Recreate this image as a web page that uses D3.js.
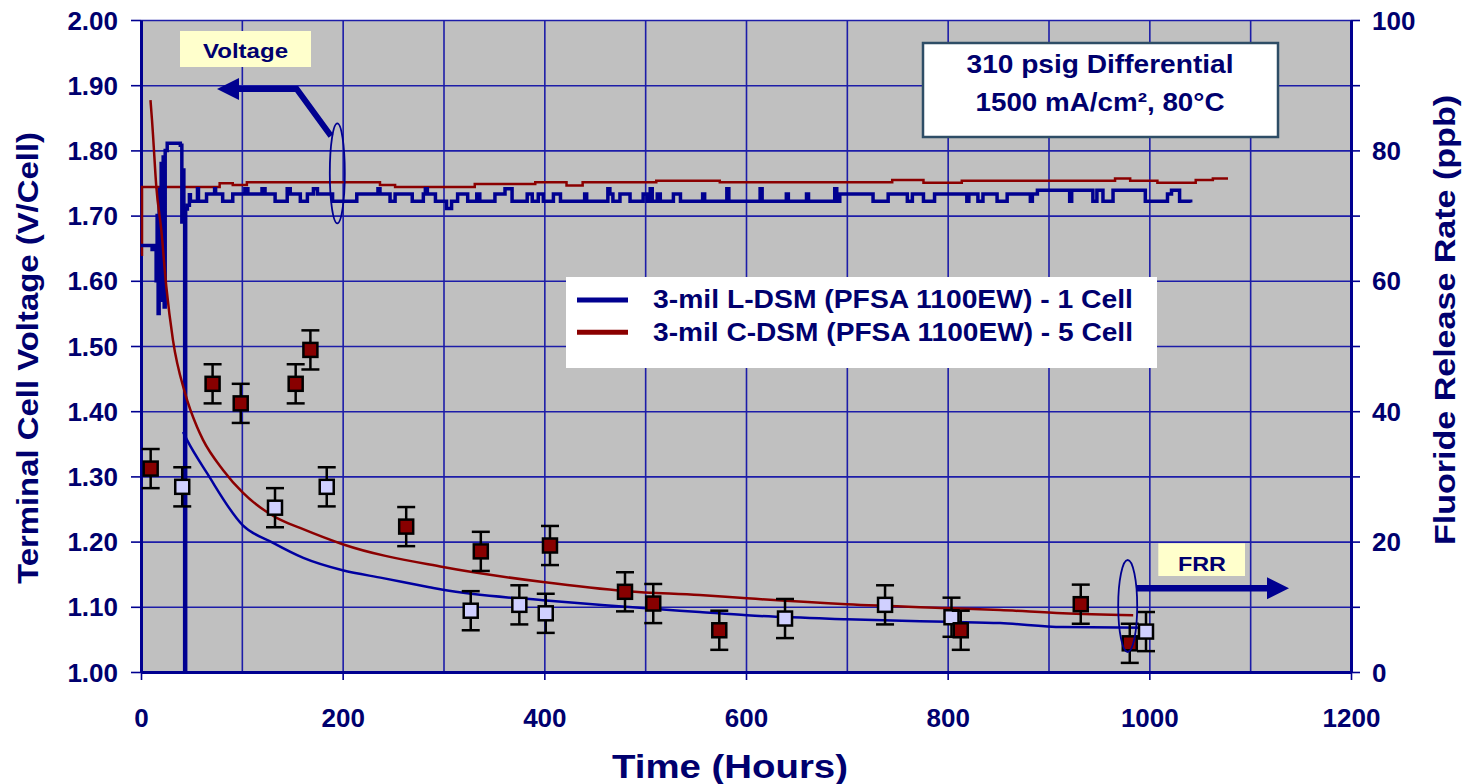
<!DOCTYPE html>
<html>
<head>
<meta charset="utf-8">
<script src="https://cdn.jsdelivr.net/npm/d3@7"></script>
<style>
  body { margin: 0; background: #fff; }
  text { font-family: "Liberation Sans", Arial, sans-serif; font-weight: bold; fill: #00006e; }
</style>
</head>
<body>
<div id="chart"></div>
<script>
// ticks
var timeTicks = [0, 200, 400, 600, 800, 1000, 1200];
var gridHours = [0, 100, 200, 300, 400, 500, 600, 700, 800, 900, 1000, 1100, 1200];
var voltTicks = [1.00, 1.10, 1.20, 1.30, 1.40, 1.50, 1.60, 1.70, 1.80, 1.90, 2.00];
var frrTicks = [0, 10, 20, 30, 40, 50, 60, 70, 80, 90, 100];

// voltage, [hours, V/cell]
var voltLDSM = [
  [0, 1.654], [11, 1.648], [14, 1.654], [15, 1.60], [16, 1.70], [17, 1.55], [18, 1.74], [19, 1.58],
  [20, 1.78], [21, 1.57], [22, 1.79], [23, 1.56], [24, 1.80], [26, 1.811], [39, 1.808], [40.5, 1.69],
  [41.5, 1.77], [42.5, 1.70], [43.3, 1.00], [44.3, 1.71], [46, 1.716], [48, 1.732],
  [49, 1.722], [56, 1.741], [57, 1.722], [65, 1.733], [73, 1.741], [74, 1.733], [81, 1.722], [91, 1.733],
  [103, 1.741], [106, 1.733], [120, 1.741], [123, 1.733], [133, 1.722], [145, 1.741], [148, 1.733],
  [158, 1.722], [165, 1.733], [171, 1.741], [175, 1.733], [190, 1.722], [214, 1.733], [235, 1.741],
  [237, 1.733], [247, 1.722], [252, 1.733], [269, 1.722], [280, 1.733], [282, 1.741], [284, 1.733],
  [292, 1.722], [303, 1.711], [308, 1.722], [314, 1.733], [324, 1.722], [333, 1.733], [336, 1.722],
  [351, 1.733], [361, 1.741], [368, 1.722], [383, 1.733], [388, 1.722], [394, 1.733], [399, 1.722],
  [409, 1.733], [416, 1.722], [440, 1.733], [442, 1.722], [463, 1.741], [465, 1.733], [468, 1.722],
  [475, 1.733], [485, 1.722], [498, 1.733], [502, 1.722], [505, 1.741], [507, 1.722], [512, 1.733],
  [515, 1.722], [528, 1.733], [535, 1.722], [557, 1.733], [559, 1.722], [581, 1.741], [583, 1.722],
  [614, 1.741], [616, 1.722], [640, 1.733], [642, 1.722], [660, 1.733], [662, 1.722], [688, 1.741],
  [690, 1.722], [693, 1.733], [726, 1.722], [741, 1.733], [760, 1.722], [765, 1.733], [776, 1.722],
  [787, 1.733], [819, 1.722], [821, 1.733], [830, 1.722], [835, 1.733], [849, 1.722], [859, 1.733],
  [882, 1.722], [884, 1.733], [889, 1.739], [921, 1.722], [923, 1.739], [944, 1.722], [948, 1.739],
  [954, 1.722], [964, 1.739], [996, 1.722], [1018, 1.733], [1022, 1.739], [1030, 1.722], [1041, 1.72]
];
var voltCDSM = [
  [0, 1.64], [1, 1.744], [78, 1.7495], [91, 1.747], [105, 1.751], [237, 1.747], [252, 1.744],
  [331, 1.7485], [391, 1.751], [422, 1.746], [438, 1.751], [511, 1.7535], [574, 1.751], [745, 1.7545],
  [776, 1.7505], [814, 1.7535], [966, 1.757], [981, 1.7535], [1008, 1.7505], [1046, 1.7545],
  [1063, 1.757], [1078, 1.757]
];

// fluoride release rate trend, [hours, ppb]
var frrLDSM = [
  [41.7, 36.8], [45.6, 35.6], [65.5, 30.5], [101, 22.5], [131, 19.8], [161, 17.5], [200, 15.6],
  [240, 14.4], [286, 13.0], [299.5, 12.6], [398.7, 11.0], [448, 10.4], [498, 9.8], [554, 9.2],
  [601, 8.7], [700, 8.1], [799, 7.7], [852, 7.5], [914, 6.9], [997.7, 6.8]
];
var frrCDSM = [
  [9.4, 87.7], [10.9, 84.7], [11.9, 82.4], [15.2, 74.4], [20.1, 67.8], [25.1, 59.1], [31.7, 50.9],
  [43.6, 42.8], [55.5, 37.6], [61.5, 35.6], [81.3, 31.0], [101, 27.5], [135, 23.6], [157.7, 22.1],
  [200, 19.6], [299.5, 16.1], [398.7, 13.8], [482, 12.4], [554, 11.8], [601, 11.3], [700, 10.4],
  [799, 9.8], [852, 9.5], [914, 9.0], [984, 8.7]
];

// measured FRR samples, [hours, ppb]
var sampLDSM = [
  [40.9, 28.4], [132.9, 25.2], [184.2, 28.4], [327, 9.4], [375.2, 10.3], [401.4, 9.0],
  [638.7, 8.2], [737.9, 10.3], [803.8, 8.4], [996.7, 6.2]
];
var sampCDSM = [
  [9.6, 31.2], [71, 44.2], [98.9, 41.2], [153.4, 44.2], [168, 49.4], [263, 22.3], [337, 18.5],
  [405.6, 19.4], [480, 12.3], [508, 10.5], [573.5, 6.4], [813, 6.4], [932, 10.4], [980.6, 4.4]
];
var errPpb = 3;

var legendNames = ["3-mil L-DSM (PFSA 1100EW) - 1 Cell", "3-mil C-DSM (PFSA 1100EW) - 5 Cell"];

var navy = "#000090";
var darkRed = "#8b0000";
var gridColor = "#1c1ca8";

var svgWidth = 1469;
var svgHeight = 784;
var margin = { top: 20, right: 118, bottom: 112, left: 141 };
var chartWidth = svgWidth - margin.left - margin.right;
var chartHeight = svgHeight - margin.top - margin.bottom;

var svg = d3.select("#chart").append("svg")
  .attr("width", svgWidth)
  .attr("height", svgHeight);

var chartGroup = svg.append("g")
  .attr("transform", `translate(${margin.left}, ${margin.top})`);

var xScale = d3.scaleLinear().domain([0, 1200]).range([0, chartWidth]);
var yVolt = d3.scaleLinear().domain([1, 2]).range([chartHeight, 0]);
var yFrr = d3.scaleLinear().domain([0, 100]).range([chartHeight, 0]);

// plot background
chartGroup.append("rect")
  .attr("width", chartWidth)
  .attr("height", chartHeight)
  .attr("fill", "#c0c0c0");

// grid
var vGrid = chartGroup.append("g")
  .call(d3.axisBottom(xScale).tickValues(gridHours).tickSize(chartHeight).tickFormat(""));
var hGrid = chartGroup.append("g")
  .call(d3.axisLeft(yVolt).tickValues(voltTicks).tickSize(-chartWidth).tickFormat(""));
[vGrid, hGrid].forEach(function (g) {
  g.select(".domain").remove();
  g.selectAll("line").attr("stroke", gridColor).attr("stroke-width", 1.6);
});

// axes
var xAxis = chartGroup.append("g")
  .attr("transform", `translate(0,${chartHeight})`)
  .call(d3.axisBottom(xScale).tickValues(timeTicks).tickSize(8).tickSizeOuter(0).tickFormat(d3.format("d")));
xAxis.selectAll("text").attr("y", 55).attr("dy", 0);

var yAxisL = chartGroup.append("g")
  .call(d3.axisLeft(yVolt).tickValues(voltTicks).tickSize(10).tickSizeOuter(0).tickFormat(d3.format(".2f")));
yAxisL.selectAll("text").attr("x", -23).attr("dy", "0.35em");

var yAxisR = chartGroup.append("g")
  .attr("transform", `translate(${chartWidth},0)`)
  .call(d3.axisRight(yFrr).tickValues(frrTicks).tickSize(9).tickSizeOuter(0)
    .tickFormat(d => d % 20 === 0 ? d : ""));
yAxisR.selectAll("text").attr("x", 21).attr("dy", "0.35em");

[xAxis, yAxisL, yAxisR].forEach(function (g) {
  g.select(".domain").attr("stroke", navy).attr("stroke-width", 3);
  g.selectAll(".tick line").attr("stroke", navy).attr("stroke-width", 1.6);
  g.selectAll("text")
    .attr("fill", "#00006e")
    .style("font-size", "26px")
    .style("font-family", '"Liberation Sans", Arial, sans-serif')
    .style("font-weight", "bold");
});

// axis titles
svg.append("text")
  .attr("transform", "translate(38, 358) rotate(-90)")
  .attr("text-anchor", "middle")
  .attr("textLength", 452)
  .attr("lengthAdjust", "spacingAndGlyphs")
  .style("font-size", "30px")
  .text("Terminal Cell Voltage (V/Cell)");

svg.append("text")
  .attr("transform", "translate(1455, 320) rotate(-90)")
  .attr("text-anchor", "middle")
  .attr("textLength", 450)
  .attr("lengthAdjust", "spacingAndGlyphs")
  .style("font-size", "29px")
  .text("Fluoride Release Rate (ppb)");

svg.append("text")
  .attr("x", 730)
  .attr("y", 778)
  .attr("text-anchor", "middle")
  .attr("textLength", 236)
  .attr("lengthAdjust", "spacingAndGlyphs")
  .style("font-size", "33px")
  .text("Time (Hours)");

// voltage lines
var voltLine = d3.line()
  .x(d => xScale(d[0]))
  .y(d => yVolt(d[1]))
  .curve(d3.curveStepAfter);

chartGroup.append("path")
  .datum(voltCDSM)
  .attr("d", voltLine)
  .attr("fill", "none")
  .attr("stroke", darkRed)
  .attr("stroke-width", 2.5);

chartGroup.append("path")
  .datum(voltLDSM)
  .attr("d", voltLine)
  .attr("fill", "none")
  .attr("stroke", navy)
  .attr("stroke-width", 3.5);

// FRR trend lines
var frrLine = d3.line()
  .x(d => xScale(d[0]))
  .y(d => yFrr(d[1]))
  .curve(d3.curveMonotoneX);

chartGroup.append("path")
  .datum(frrCDSM)
  .attr("d", frrLine)
  .attr("fill", "none")
  .attr("stroke", darkRed)
  .attr("stroke-width", 2.5);

chartGroup.append("path")
  .datum(frrLDSM)
  .attr("d", frrLine)
  .attr("fill", "none")
  .attr("stroke", "#0000a0")
  .attr("stroke-width", 2.5);

// samples with error bars
function drawSamples(data, fill) {
  var g = chartGroup.append("g");
  var items = g.selectAll("g").data(data).enter().append("g");
  items.append("line")
    .attr("x1", d => xScale(d[0])).attr("x2", d => xScale(d[0]))
    .attr("y1", d => yFrr(d[1] - errPpb)).attr("y2", d => yFrr(d[1] + errPpb))
    .attr("stroke", "#000").attr("stroke-width", 2.5);
  [-errPpb, errPpb].forEach(function (e) {
    items.append("line")
      .attr("x1", d => xScale(d[0]) - 9).attr("x2", d => xScale(d[0]) + 9)
      .attr("y1", d => yFrr(d[1] + e)).attr("y2", d => yFrr(d[1] + e))
      .attr("stroke", "#000").attr("stroke-width", 2.5);
  });
  items.append("rect")
    .attr("x", d => xScale(d[0]) - 7).attr("y", d => yFrr(d[1]) - 7)
    .attr("width", 14).attr("height", 14)
    .attr("fill", fill)
    .attr("stroke", "#000").attr("stroke-width", 2.5);
}
drawSamples(sampLDSM, "#d0d0ff");
drawSamples(sampCDSM, "#880000");

// legend
var legend = chartGroup.append("g").attr("transform", "translate(425, 257)");
legend.append("rect").attr("width", 591).attr("height", 91).attr("fill", "#fff");
[navy, darkRed].forEach(function (c, i) {
  legend.append("line")
    .attr("x1", 11).attr("x2", 62)
    .attr("y1", 23 + i * 32.3).attr("y2", 23 + i * 32.3)
    .attr("stroke", c).attr("stroke-width", 5);
  legend.append("text")
    .attr("x", 87).attr("y", 31 + i * 33)
    .attr("textLength", 480)
    .attr("lengthAdjust", "spacingAndGlyphs")
    .style("font-size", "25px")
    .text(legendNames[i]);
});

// condition box
var cond = chartGroup.append("g");
cond.append("rect")
  .attr("x", 782).attr("y", 23).attr("width", 355).attr("height", 94)
  .attr("fill", "#fff").attr("stroke", "#2e4d66").attr("stroke-width", 2.5);
cond.append("text")
  .attr("x", 959).attr("y", 53).attr("text-anchor", "middle")
  .attr("textLength", 267).attr("lengthAdjust", "spacingAndGlyphs")
  .style("font-size", "25px")
  .text("310 psig Differential");
cond.append("text")
  .attr("x", 959).attr("y", 91).attr("text-anchor", "middle")
  .attr("textLength", 249).attr("lengthAdjust", "spacingAndGlyphs")
  .style("font-size", "25px")
  .text("1500 mA/cm², 80°C");

// "Voltage" callout
var vCall = chartGroup.append("g");
vCall.append("rect")
  .attr("x", 39).attr("y", 11).attr("width", 131).attr("height", 36)
  .attr("fill", "#ffffcc");
vCall.append("text")
  .attr("x", 104.5).attr("y", 38).attr("text-anchor", "middle")
  .attr("textLength", 85).attr("lengthAdjust", "spacingAndGlyphs")
  .style("font-size", "21px")
  .text("Voltage");
vCall.append("ellipse")
  .attr("cx", 196.3).attr("cy", 153.3).attr("rx", 7.5).attr("ry", 50)
  .attr("fill", "none").attr("stroke", navy).attr("stroke-width", 1.8);
vCall.append("path")
  .attr("d", "M190,116 L155.7,69 L96,69")
  .attr("fill", "none").attr("stroke", navy).attr("stroke-width", 6);
vCall.append("path")
  .attr("d", "M98,58 L98,80 L76,69 Z")
  .attr("fill", navy);

// "FRR" callout
var fCall = chartGroup.append("g");
fCall.append("rect")
  .attr("x", 1017.3).attr("y", 523.3).attr("width", 86.7).attr("height", 32.7)
  .attr("fill", "#ffffcc");
fCall.append("text")
  .attr("x", 1061).attr("y", 550.7).attr("text-anchor", "middle")
  .attr("textLength", 48).attr("lengthAdjust", "spacingAndGlyphs")
  .style("font-size", "21px")
  .text("FRR");
fCall.append("ellipse")
  .attr("cx", 986.7).attr("cy", 586).attr("rx", 9.5).attr("ry", 46)
  .attr("fill", "none").attr("stroke", navy).attr("stroke-width", 1.8);
fCall.append("line")
  .attr("x1", 996).attr("x2", 1128).attr("y1", 568.3).attr("y2", 568.3)
  .attr("stroke", navy).attr("stroke-width", 6.5);
fCall.append("path")
  .attr("d", "M1126,557.3 L1126,579.3 L1148,568.3 Z")
  .attr("fill", navy);
</script>
</body>
</html>
